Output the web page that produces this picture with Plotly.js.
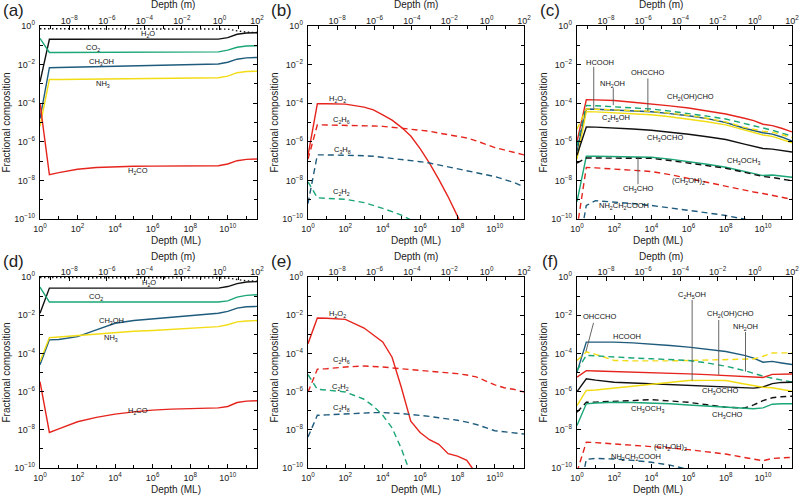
<!DOCTYPE html>
<html><head><meta charset="utf-8">
<script src="https://cdn.plot.ly/plotly-3.0.1.min.js"></script>
<style>html,body{margin:0;padding:0;background:#fff}#chart{width:800px;height:495px}</style>
</head><body><div id="chart"></div>
<script>
// ---- log10 depth grids (ML) ----
const gridA = [0, 0.5, 1, 2, 3, 4, 5, 6, 7, 8, 9, 9.5, 10, 10.5, 11, 11.56];
const gridB = [0, 0.5, 1, 2, 3, 3.5, 4, 4.5, 5, 5.5, 6, 6.5, 7, 7.5, 8, 8.5, 9, 10, 10.5, 11, 11.56];

// ---- panel (a): log10 fractional composition on gridA ----
const a_total = [-0.14,-0.14,-0.14,-0.14,-0.14,-0.14,-0.14,-0.14,-0.14,-0.14,-0.14,-0.14,-0.16,-0.25,-0.32,-0.34];
const a_H2O   = [-2.9,-0.69,-0.69,-0.69,-0.69,-0.69,-0.69,-0.69,-0.69,-0.69,-0.69,-0.68,-0.6,-0.43,-0.36,-0.35];
const a_CO2   = [-0.64,-1.37,-1.37,-1.37,-1.37,-1.37,-1.37,-1.37,-1.37,-1.37,-1.36,-1.34,-1.25,-1.1,-1.04,-1.02];
const a_CH3OH = [-4.8,-2.16,-2.15,-2.13,-2.11,-2.09,-2.07,-2.05,-2.03,-2.01,-1.99,-1.97,-1.88,-1.72,-1.65,-1.63];
const a_NH3   = [-5.2,-2.77,-2.77,-2.76,-2.75,-2.74,-2.73,-2.72,-2.71,-2.7,-2.69,-2.68,-2.6,-2.42,-2.36,-2.34];
const a_H2CO  = [-4.0,-7.7,-7.6,-7.42,-7.33,-7.29,-7.27,-7.26,-7.26,-7.25,-7.25,-7.24,-7.15,-6.98,-6.91,-6.89];

// ---- panel (b) on gridB ----
const b_H2O2 = [-6.7,-4.03,-4.03,-4.05,-4.2,-4.35,-4.6,-4.88,-5.25,-5.7,-6.35,-7.1,-7.95,-8.85,-9.85,-10.9,-12,-14,-15,-16,-17];
const b_C2H6 = [-6.9,-5.12,-5.13,-5.14,-5.16,-5.18,-5.2,-5.25,-5.3,-5.35,-5.38,-5.45,-5.55,-5.62,-5.7,-5.8,-5.95,-6.3,-6.42,-6.55,-6.68];
const b_C3H8 = [-9.2,-6.68,-6.68,-6.69,-6.72,-6.75,-6.8,-6.85,-6.92,-6.98,-7.03,-7.1,-7.2,-7.3,-7.38,-7.48,-7.58,-7.8,-7.95,-8.1,-8.33];
const b_C2H2 = [-8.07,-8.9,-8.93,-8.98,-9.15,-9.28,-9.45,-9.62,-9.8,-10.05,-10.5,-11,-12,-13,-14,-15,-16,-17,-17,-17,-17];

// ---- panel (c) on gridA ----
const c_CH2OHCHO  = [-6.0,-3.82,-3.83,-3.86,-3.95,-4.03,-4.14,-4.25,-4.4,-4.56,-4.78,-4.9,-5.09,-5.16,-5.3,-5.49];
const c_NH2OH     = [-6.2,-4.12,-4.13,-4.18,-4.24,-4.3,-4.41,-4.53,-4.67,-4.82,-5.04,-5.15,-5.26,-5.4,-5.55,-5.7];
const c_HCOOH     = [-6.5,-4.3,-4.31,-4.35,-4.4,-4.44,-4.54,-4.65,-4.8,-5.0,-5.3,-5.42,-5.53,-5.6,-5.75,-5.96];
const c_OHCCHO    = [-5.35,-4.3,-4.31,-4.34,-4.38,-4.42,-4.52,-4.63,-4.78,-4.97,-5.25,-5.36,-5.45,-5.5,-5.62,-5.78];
const c_C2H5OH    = [-6.9,-4.44,-4.45,-4.5,-4.55,-4.6,-4.7,-4.82,-4.96,-5.12,-5.4,-5.52,-5.65,-5.72,-5.88,-6.05];
const c_CH3OCHO   = [-6.7,-5.23,-5.24,-5.28,-5.34,-5.4,-5.5,-5.61,-5.74,-5.88,-6.12,-6.22,-6.35,-6.38,-6.45,-6.53];
const c_CH3OCH3   = [-9.1,-6.75,-6.75,-6.76,-6.78,-6.8,-6.9,-7.02,-7.16,-7.32,-7.53,-7.65,-7.75,-7.72,-7.77,-7.84];
const c_CH3CHO    = [-7.1,-6.84,-6.84,-6.84,-6.84,-6.86,-6.97,-7.1,-7.22,-7.37,-7.58,-7.7,-7.8,-7.85,-7.93,-8.02];
const c_CH2OH2    = [-10.5,-7.33,-7.35,-7.42,-7.48,-7.54,-7.7,-7.9,-8.1,-8.33,-8.52,-8.6,-8.68,-8.78,-8.88,-8.98];
const c_GLY       = [-12,-9.3,-9.05,-9.12,-9.2,-9.3,-9.42,-9.56,-9.68,-9.82,-10.0,-10.1,-10.2,-10.3,-10.4,-10.5];

// ---- panel (d) on gridA ----
const d_total = [-0.03,-0.03,-0.03,-0.03,-0.03,-0.03,-0.03,-0.03,-0.03,-0.03,-0.03,-0.03,-0.05,-0.13,-0.2,-0.22];
const d_H2O   = [-1.9,-0.58,-0.58,-0.58,-0.58,-0.58,-0.58,-0.58,-0.58,-0.58,-0.58,-0.58,-0.5,-0.35,-0.26,-0.24];
const d_CO2   = [-0.53,-1.31,-1.31,-1.31,-1.31,-1.31,-1.31,-1.31,-1.31,-1.31,-1.31,-1.31,-1.25,-1.05,-0.96,-0.93];
const d_CH3OH = [-4.6,-3.29,-3.27,-3.12,-2.77,-2.42,-2.28,-2.19,-2.1,-2.01,-1.95,-1.9,-1.8,-1.63,-1.56,-1.54];
const d_NH3   = [-4.43,-3.17,-3.14,-3.06,-2.97,-2.89,-2.84,-2.8,-2.74,-2.68,-2.63,-2.6,-2.5,-2.35,-2.3,-2.28];
const d_H2CO  = [-5.48,-8.14,-7.95,-7.58,-7.35,-7.18,-7.06,-6.97,-6.92,-6.88,-6.86,-6.85,-6.78,-6.57,-6.5,-6.48];

// ---- panel (e) on gridB ----
const e_H2O2 = [-3.49,-2.15,-2.16,-2.22,-2.67,-3.02,-3.4,-4.2,-5.8,-7.55,-8.14,-8.52,-8.76,-9.25,-9.38,-9.6,-10.3,-12,-13,-14,-15];
const e_C2H6 = [-6.02,-4.83,-4.8,-4.71,-4.66,-4.67,-4.71,-4.76,-4.8,-4.85,-4.89,-4.93,-4.98,-5.02,-5.06,-5.13,-5.23,-5.65,-5.8,-5.88,-6.02];
const e_C2H2 = [-5.11,-5.88,-5.92,-6.02,-6.4,-6.76,-7.24,-7.9,-9.0,-10.2,-11.5,-13,-15,-16,-17,-17,-17,-17,-17,-17,-17];
const e_C3H8 = [-8.38,-7.24,-7.22,-7.16,-7.1,-7.1,-7.1,-7.12,-7.15,-7.2,-7.24,-7.3,-7.37,-7.43,-7.5,-7.6,-7.72,-8.05,-8.1,-8.15,-8.22];

// ---- panel (f) on gridA ----
const f_HCOOH    = [-4.98,-3.41,-3.41,-3.41,-3.45,-3.51,-3.59,-3.67,-3.78,-3.9,-4.1,-4.25,-4.46,-4.42,-4.5,-4.58];
const f_OHCCHO   = [-4.37,-3.92,-4.05,-4.37,-4.39,-4.4,-4.39,-4.37,-4.35,-4.32,-4.3,-4.29,-4.15,-3.98,-3.97,-3.97];
const f_NH2OH    = [-4.9,-4.1,-4.13,-4.2,-4.24,-4.28,-4.32,-4.37,-4.5,-4.67,-4.9,-5.05,-5.19,-5.3,-5.4,-5.5];
const f_CH2OHCHO = [-5.24,-4.9,-4.92,-4.95,-4.97,-4.98,-5.02,-5.07,-5.11,-5.16,-5.23,-5.27,-5.26,-5.1,-5.08,-5.08];
const f_CH3OCHO  = [-6.0,-5.33,-5.4,-5.51,-5.55,-5.59,-5.63,-5.68,-5.72,-5.77,-5.8,-5.82,-5.76,-5.58,-5.52,-5.51];
const f_C2H5OH   = [-6.73,-5.94,-5.92,-5.82,-5.7,-5.59,-5.5,-5.42,-5.41,-5.42,-5.6,-5.68,-5.77,-5.8,-5.88,-5.98];
const f_CH3CHO   = [-7.08,-6.56,-6.55,-6.52,-6.47,-6.42,-6.48,-6.56,-6.69,-6.82,-6.86,-6.7,-6.47,-6.32,-6.27,-6.24];
const f_CH3OCH3  = [-7.78,-6.64,-6.6,-6.56,-6.57,-6.59,-6.64,-6.7,-6.76,-6.82,-6.88,-6.9,-6.85,-6.66,-6.64,-6.64];
const f_CH2OH2   = [-10.2,-8.65,-8.67,-8.74,-8.8,-8.86,-8.95,-9.04,-9.15,-9.27,-9.45,-9.55,-9.62,-9.5,-9.46,-9.44];
const f_GLY      = [-12,-9.55,-9.5,-9.53,-9.6,-9.7,-9.85,-10.05,-10.3,-10.6,-11,-11.2,-11.4,-11.6,-11.8,-12];

// ---- tick exponents (labelled = even, minor = every decade) ----
const mlMajorExp = [0,2,4,6,8,10];
const mlMinorExp = [1,3,5,7,9,11];
const mMajorExp  = [-8,-6,-4,-2,0,2];
const mMinorExp  = [-9,-7,-5,-3,-1,1];
const yMajorExp  = [-10,-8,-6,-4,-2,0];
const yMinorExp  = [-9,-7,-5,-3,-1];
const panelLetters = ['(a)','(b)','(c)','(d)','(e)','(f)'];

// ---- styles ----
const RED='#e5251d', GRN='#1aa676', BLU='#1e5b7c', YEL='#f2dc13', BLK='#111111';

const panels = [
  {grid: gridA, series: [[a_total,BLK,'dot'],[a_H2O,BLK,'solid'],[a_CO2,GRN,'solid'],[a_CH3OH,BLU,'solid'],[a_NH3,YEL,'solid'],[a_H2CO,RED,'solid']],
   labels: [['H<sub>2</sub>O',5.75,-0.4],['CO<sub>2</sub>',2.83,-1.12],['CH<sub>3</sub>OH',3.27,-1.85],['NH<sub>3</sub>',3.36,-3.0],['H<sub>2</sub>CO',5.2,-7.5]], leaders: []},
  {grid: gridB, series: [[b_H2O2,RED,'solid'],[b_C2H6,RED,'dash'],[b_C3H8,BLU,'dash'],[b_C2H2,GRN,'dash']],
   labels: [['H<sub>2</sub>O<sub>2</sub>',1.6,-3.78],['C<sub>2</sub>H<sub>6</sub>',1.8,-4.86],['C<sub>3</sub>H<sub>8</sub>',1.86,-6.42],['C<sub>2</sub>H<sub>2</sub>',1.77,-8.6]], leaders: []},
  {grid: gridA, series: [[c_CH2OHCHO,RED,'solid'],[c_NH2OH,GRN,'dash'],[c_HCOOH,BLU,'solid'],[c_OHCCHO,YEL,'dash'],[c_C2H5OH,YEL,'solid'],[c_CH3OCHO,BLK,'solid'],[c_CH3OCH3,GRN,'solid'],[c_CH3CHO,BLK,'dash'],[c_CH2OH2,RED,'dash'],[c_GLY,BLU,'dash']],
   labels: [['HCOOH',1.26,-1.88],['NH<sub>2</sub>OH',1.9,-3.0],['OHCCHO',3.81,-2.42],['CH<sub>2</sub>(OH)CHO',6.08,-3.68],['C<sub>2</sub>H<sub>5</sub>OH',2.07,-4.77],['CH<sub>3</sub>OCHO',4.74,-5.79],['CH<sub>3</sub>OCH<sub>3</sub>',8.97,-7.02],['CH<sub>3</sub>CHO',3.32,-8.42],['(CH<sub>2</sub>OH)<sub>2</sub>',5.98,-8.02],['NH<sub>2</sub>CH<sub>2</sub>COOH',2.52,-9.33]],
   leaders: [[0.9,-2.12,0.9,-4.28],[1.95,-3.22,1.95,-4.1],[3.81,-2.72,3.81,-4.4],[3.28,-6.84,3.28,-8.2]]},
  {grid: gridA, series: [[d_total,BLK,'dot'],[d_H2O,BLK,'solid'],[d_CO2,GRN,'solid'],[d_CH3OH,BLU,'solid'],[d_NH3,YEL,'solid'],[d_H2CO,RED,'solid']],
   labels: [['H<sub>2</sub>O',5.8,-0.3],['CO<sub>2</sub>',3.0,-1.05],['CH<sub>3</sub>OH',3.8,-2.28],['NH<sub>3</sub>',3.8,-3.2],['H<sub>2</sub>CO',5.2,-7.0]], leaders: []},
  {grid: gridB, series: [[e_H2O2,RED,'solid'],[e_C2H6,RED,'dash'],[e_C2H2,GRN,'dash'],[e_C3H8,BLU,'dash']],
   labels: [['H<sub>2</sub>O<sub>2</sub>',1.6,-1.92],['C<sub>2</sub>H<sub>6</sub>',1.81,-4.36],['C<sub>2</sub>H<sub>2</sub>',1.74,-5.76],['C<sub>3</sub>H<sub>8</sub>',1.81,-6.86]], leaders: []},
  {grid: gridA, series: [[f_HCOOH,BLU,'solid'],[f_OHCCHO,YEL,'dash'],[f_NH2OH,GRN,'dash'],[f_CH2OHCHO,RED,'solid'],[f_CH3OCHO,BLK,'solid'],[f_C2H5OH,YEL,'solid'],[f_CH3CHO,BLK,'dash'],[f_CH3OCH3,GRN,'solid'],[f_CH2OH2,RED,'dash'],[f_GLY,BLU,'dash']],
   labels: [['OHCCHO',1.19,-2.05],['HCOOH',2.68,-3.11],['C<sub>2</sub>H<sub>5</sub>OH',6.19,-0.93],['CH<sub>2</sub>(OH)CHO',8.24,-1.92],['NH<sub>2</sub>OH',9.06,-2.62],['CH<sub>3</sub>OCHO',7.68,-5.98],['CH<sub>3</sub>OCH<sub>3</sub>',3.81,-6.9],['CH<sub>3</sub>CHO',8.1,-7.2],['(CH<sub>2</sub>OH)<sub>2</sub>',5.05,-8.92],['NH<sub>2</sub>CH<sub>2</sub>COOH',3.17,-9.4]],
   leaders: [[0.89,-2.4,0.48,-3.9],[6.19,-1.2,6.19,-5.42],[7.62,-2.25,7.62,-5.12],[9.06,-2.88,9.06,-4.95]]}
];

// panel placement in pixels: [left, right, top, bottom]
const boxes = [[40,257,26,219],[308,524,26,219],[577,792,26,219],[40,257,277,468],[308,524,277,468],[577,792,277,468]];

const W=800, H=495;
const FONT='Liberation Sans, Arial, sans-serif';
const pow10 = v => Math.pow(10, v);
const sup = e => '10<sup>' + (e < 0 ? '\u2212' + (-e) : e) + '</sup>';

const traces = [];
const layout = {width:W, height:H, margin:{l:0,r:0,t:0,b:0}, paper_bgcolor:'#fff', plot_bgcolor:'#fff',
  showlegend:false, font:{family:FONT, color:'#222', size:9}, annotations:[]};

panels.forEach((p, i) => {
  const xb = 'x' + (2*i+1 === 1 ? '' : 2*i+1), xt = 'x' + (2*i+2), yy = 'y' + (i === 0 ? '' : i+1);
  const [L,R,T,B] = boxes[i];
  const axCommon = {showline:true, linecolor:'#000', linewidth:1.3, ticks:'inside', ticklen:4, tickwidth:1,
    tickcolor:'#000', showgrid:false, zeroline:false, tickfont:{family:FONT, size:9, color:'#222'}, fixedrange:true};
  const minorOf = exps => ({tickmode:'array', tickvals:exps.map(pow10), ticks:'inside', ticklen:3, tickcolor:'#000', tickwidth:1, showgrid:false});
  layout['xaxis' + (2*i+1 === 1 ? '' : 2*i+1)] = Object.assign({}, axCommon, {type:'log', range:[0, 11.56],
    domain:[L/W, R/W], anchor:yy, tickmode:'array', tickvals:mlMajorExp.map(pow10),
    ticktext:mlMajorExp.map(sup), ticklabelstandoff:1, minor:minorOf(mlMinorExp)});
  layout['xaxis' + (2*i+2)] = Object.assign({}, axCommon, {type:'log', range:[-9.56, 2.0],
    overlaying:xb, side:'top', anchor:yy, tickmode:'array', tickvals:mMajorExp.map(pow10),
    ticktext:mMajorExp.map(sup), ticklabelstandoff:-3, minor:minorOf(mMinorExp)});
  layout['yaxis' + (i === 0 ? '' : i+1)] = Object.assign({}, axCommon, {type:'log', range:[-10, 0],
    domain:[1 - B/H, 1 - T/H], anchor:xb, mirror:'ticks', tickmode:'array', tickvals:yMajorExp.map(pow10),
    ticktext:yMajorExp.map(sup), ticklabelstandoff:2, minor:minorOf(yMinorExp)});

  p.series.forEach(([vals, color, dash]) => {
    traces.push({type:'scatter', mode:'lines', xaxis:xb, yaxis:yy, hoverinfo:'skip',
      x:p.grid.map(pow10), y:vals.map(pow10),
      line:{color:color, width:1.4, dash: dash === 'dash' ? '6px,4px' : (dash === 'dot' ? '1.5px,2.5px' : 'solid')}});
  });
  p.leaders.forEach(([x0,y0,x1,y1]) => {
    traces.push({type:'scatter', mode:'lines', xaxis:xb, yaxis:yy, hoverinfo:'skip',
      x:[pow10(x0), pow10(x1)], y:[pow10(y0), pow10(y1)], line:{color:'#555', width:0.9}});
  });
  // invisible trace binding the top (metres) axis to the subplot
  traces.push({type:'scatter', mode:'markers', xaxis:xt, yaxis:yy, x:[1e-3], y:[1e-20], hoverinfo:'skip', marker:{opacity:0}});

  p.labels.forEach(([txt, lx, ly]) => {
    layout.annotations.push({xref:xb, yref:yy, x:lx, y:ly, text:txt, showarrow:false,
      font:{family:FONT, size:7.5, color:'#111'}});
  });
  const cx = (L + R) / 2 / W;
  layout.annotations.push({xref:'paper', yref:'paper', x:cx, y:1 - (T - 21)/H, text:'Depth (m)', showarrow:false,
    font:{family:FONT, size:10, color:'#222'}, yanchor:'middle'});
  layout.annotations.push({xref:'paper', yref:'paper', x:cx, y:1 - (B + 21)/H, text:'Depth (ML)', showarrow:false,
    font:{family:FONT, size:10, color:'#222'}, yanchor:'middle'});
  layout.annotations.push({xref:'paper', yref:'paper', x:(L - 34)/W, y:1 - (T + B)/2/H, text:'Fractional composition',
    showarrow:false, textangle:-90, font:{family:FONT, size:10, color:'#222'}, xanchor:'center', yanchor:'middle'});
  layout.annotations.push({xref:'paper', yref:'paper', x:(L - 27)/W, y:1 - (T - 16)/H, text:panelLetters[i],
    showarrow:false, font:{family:FONT, size:17, color:'#222'}, xanchor:'center', yanchor:'middle'});
});

Plotly.newPlot('chart', traces, layout, {staticPlot:true, displayModeBar:false});
</script>
</body></html>
